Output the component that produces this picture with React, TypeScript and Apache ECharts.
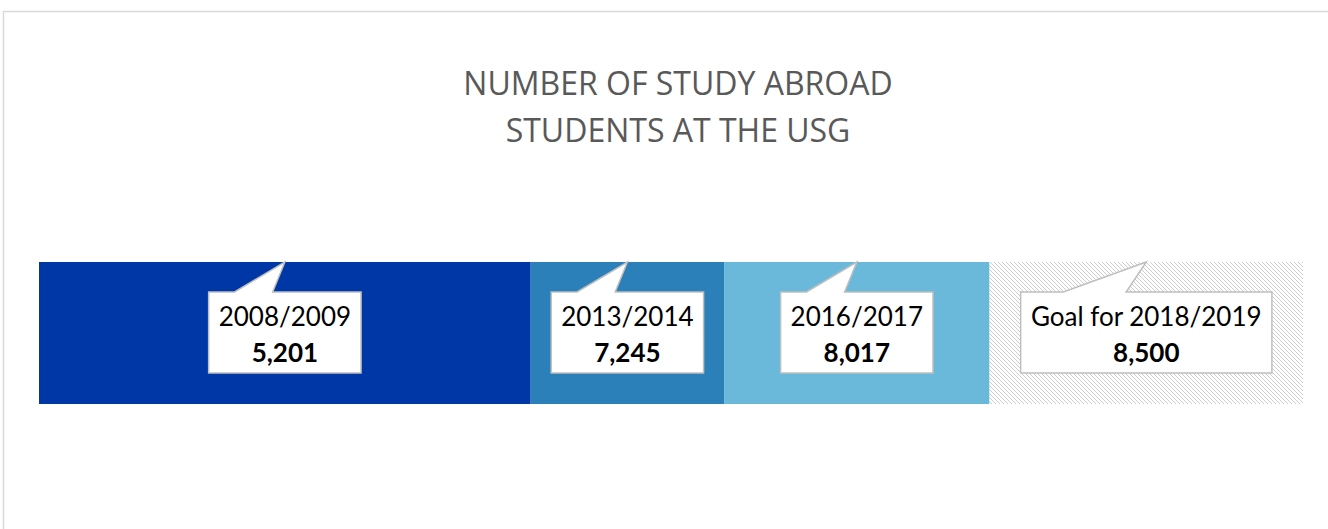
import React, { useEffect, useRef } from "react";
import * as echarts from "echarts";

// ---- data ----
const periods = ["2008/2009", "2013/2014", "2016/2017", "Goal for 2018/2019"];
const studentCounts = [5201, 7245, 8017, 8500];
// share of the bar's length taken by each segment (%)
const segmentShares = [38.9, 15.3, 21.0, 24.8];
const categories = ["USG"];

const titleText = "NUMBER OF STUDY ABROAD\nSTUDENTS AT THE USG";
const segmentColors = ["#0037A6", "#2B80B9", "#6BB9DA", "hatch"];

const FONT = "Lato, 'Open Sans', sans-serif";
const TITLE_FONT = "'Open Sans', Lato, sans-serif";
const LABEL_SIZE = 26;

function measure(text: string, font: string): number {
  const c = document.createElement("canvas");
  const g = c.getContext("2d");
  if (!g) return text.length * 13;
  g.font = font;
  return g.measureText(text).width;
}

function hatchPattern() {
  const c = document.createElement("canvas");
  c.width = 4;
  c.height = 4;
  const g = c.getContext("2d")!;
  g.fillStyle = "#ffffff";
  g.fillRect(0, 0, 4, 4);
  g.fillStyle = "#cdcdcd";
  for (let i = 0; i < 4; i++) g.fillRect(i, i, 1, 1);
  return { image: c, repeat: "repeat" as const };
}

export default function App() {
  const ref = useRef<HTMLDivElement>(null);

  useEffect(() => {
    if (!ref.current) return;
    const chart = echarts.init(ref.current, undefined, { renderer: "svg" });
    const total = segmentShares.reduce((a, b) => a + b, 0);
    const starts: number[] = [];
    segmentShares.reduce((acc, v) => {
      starts.push(acc);
      return acc + v;
    }, 0);

    const barSeries = segmentShares.map((v, i) => ({
      type: "bar",
      stack: "total",
      barWidth: "100%",
      silent: true,
      itemStyle: {
        color: segmentColors[i] === "hatch" ? hatchPattern() : segmentColors[i],
      },
      data: [v],
    }));

    const calloutSeries = {
      type: "custom",
      coordinateSystem: "cartesian2d",
      silent: true,
      encode: { x: 0, y: 3 },
      data: segmentShares.map((v, i) => [starts[i], v, i, categories[0]]),
      z: 10,
      renderItem: (_params: any, api: any) => {
        const start = api.value(0) as number;
        const w = api.value(1) as number;
        const i = api.value(2) as number;
        const [cx, cy] = api.coord([start + w / 2, 0]);
        const bandH = api.size([0, 1])[1];
        const barTop = cy - bandH / 2;
        const line1 = periods[i];
        const line2 = studentCounts[i].toLocaleString("en-US");
        const tw = Math.max(
          measure(line1, `${LABEL_SIZE}px ${FONT}`),
          measure(line2, `bold ${LABEL_SIZE}px ${FONT}`)
        );
        const hw = tw / 2 + 10;
        const T = cy - 41;
        const B = cy + 40;
        const L = cx - hw;
        const R = cx + hw;
        return {
          type: "group",
          children: [
            {
              type: "polygon",
              shape: {
                points: [
                  [L, T],
                  [cx - 0.66 * hw, T],
                  [cx, barTop],
                  [cx - 0.16 * hw, T],
                  [R, T],
                  [R, B],
                  [L, B],
                ],
              },
              style: { fill: "#ffffff", stroke: "#bfbfbf", lineWidth: 1.5 },
            },
            {
              type: "text",
              x: cx,
              y: cy - 17,
              style: {
                text: line1,
                fontFamily: FONT,
                fontSize: LABEL_SIZE,
                fill: "#000000",
                align: "center",
                verticalAlign: "middle",
              },
            },
            {
              type: "text",
              x: cx,
              y: cy + 19,
              style: {
                text: line2,
                fontFamily: FONT,
                fontSize: LABEL_SIZE,
                fontWeight: "bold",
                fill: "#000000",
                align: "center",
                verticalAlign: "middle",
              },
            },
          ],
        };
      },
    };

    chart.setOption({
      animation: false,
      backgroundColor: "#ffffff",
      title: {
        text: titleText,
        left: 673,
        top: 54,
        textAlign: "center",
        textStyle: {
          fontFamily: TITLE_FONT,
          fontSize: 32,
          fontWeight: "normal",
          color: "#595959",
          lineHeight: 47,
        },
      },
      graphic: [
        {
          type: "rect",
          silent: true,
          shape: { x: 3.5, y: 11.5, width: 1400, height: 600 },
          style: { fill: "none", stroke: "#d9d9d9", lineWidth: 1.5 },
        },
      ],
      grid: { left: 39, right: 25, top: 262, height: 142, containLabel: false },
      xAxis: {
        type: "value",
        min: 0,
        max: total,
        show: false,
      },
      yAxis: {
        type: "category",
        data: categories,
        show: false,
      },
      series: [...barSeries, calloutSeries],
    } as any);
    return () => chart.dispose();
  }, []);

  return (
    <div
      ref={ref}
      style={{ position: "absolute", left: 0, top: 0, width: 1328, height: 529 }}
    />
  );
}
